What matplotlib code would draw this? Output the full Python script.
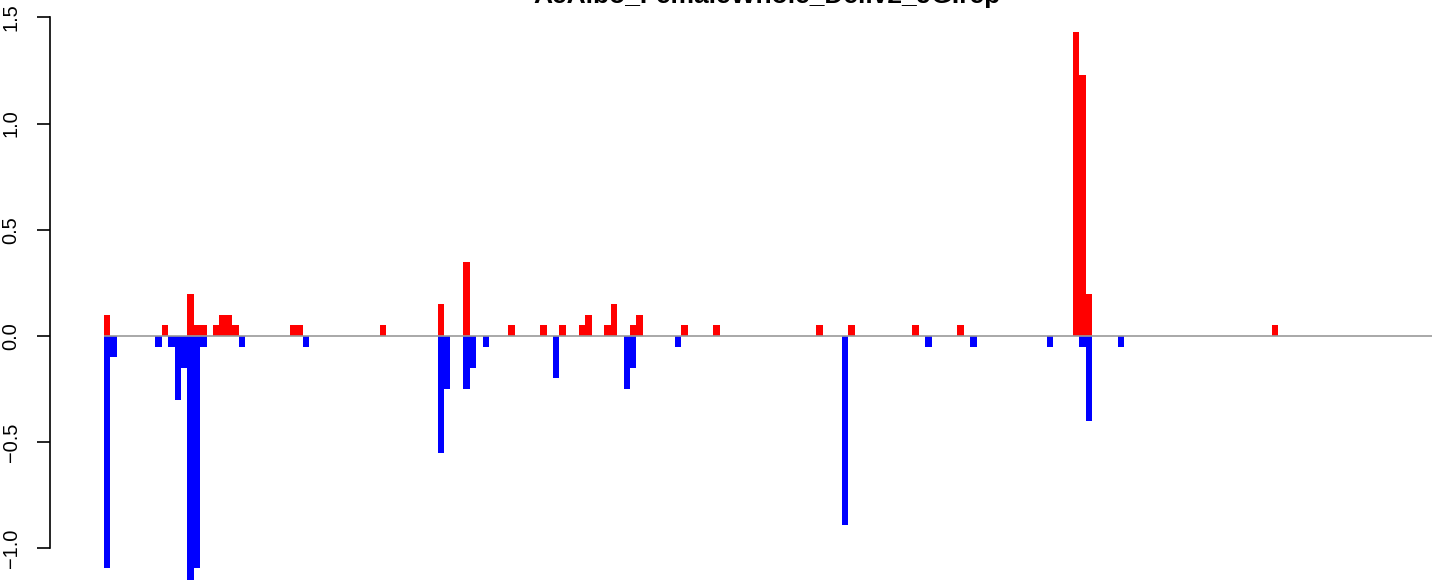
import matplotlib
matplotlib.use("Agg")
import matplotlib.pyplot as plt

plt.rcParams['font.family'] = ['Liberation Sans', 'DejaVu Sans']

title = "AeAlbo_FemaleWhole_Dellv2_JG.rep"
n_bins = 207

# positive (red) bars: bin index and value
pos_index = [0, 9, 13, 14, 15, 17, 18, 19, 20, 29, 30, 43, 52, 56, 63, 68, 71,
             74, 75, 78, 79, 82, 83, 90, 95, 111, 116, 126, 133, 151, 152, 153, 182]
pos_values = [0.1, 0.05, 0.2, 0.05, 0.05, 0.05, 0.1, 0.1, 0.05, 0.05, 0.05, 0.05,
              0.15, 0.35, 0.05, 0.05, 0.05, 0.05, 0.1, 0.05, 0.15, 0.05, 0.1, 0.05,
              0.05, 0.05, 0.05, 0.05, 0.05, 1.43, 1.23, 0.2, 0.05]

# negative (blue) bars: bin index and value
neg_index = [0, 1, 8, 10, 11, 12, 13, 14, 15, 21, 31, 52, 53, 56, 57, 59, 70, 81,
             82, 89, 115, 128, 135, 147, 152, 153, 158]
neg_values = [-1.09, -0.1, -0.05, -0.05, -0.3, -0.15, -1.15, -1.09, -0.05, -0.05,
              -0.05, -0.55, -0.25, -0.25, -0.15, -0.05, -0.2, -0.25, -0.15, -0.05,
              -0.89, -0.05, -0.05, -0.05, -0.05, -0.4, -0.05]

y_ticks = [-1.0, -0.5, 0.0, 0.5, 1.0, 1.5]
y_tick_labels = ["\u22121.0", "\u22120.5", "0.0", "0.5", "1.0", "1.5"]

W, H = 1444, 582
fig = plt.figure(figsize=(W / 100, H / 100), dpi=100)

ax_left_px, bar_start_px, bar_end_px = 50, 104, 1432
zero_px, px_per_unit = 336, 212.4
ax = fig.add_axes([ax_left_px / W, 0, (bar_end_px - ax_left_px) / W, 1])
bw = (bar_end_px - bar_start_px) / n_bins
ax.set_xlim(-(bar_start_px - ax_left_px) / bw, n_bins)
ax.set_ylim(-(H - zero_px) / px_per_unit, zero_px / px_per_unit)

ax.bar(pos_index, pos_values, width=1.0, align='edge', color='#FF0000',
       edgecolor='none', linewidth=0)
ax.bar(neg_index, neg_values, width=1.0, align='edge', color='#0000FF',
       edgecolor='none', linewidth=0)
ax.plot([0, n_bins], [0, 0], color='#9A9A9A', linewidth=1.2, zorder=5,
        solid_capstyle='butt')

for s in ['top', 'right', 'bottom']:
    ax.spines[s].set_visible(False)
ax.spines['left'].set_bounds(-1.0, 1.5)
ax.spines['left'].set_linewidth(1.2)
ax.set_xticks([])
ax.set_yticks(y_ticks)
ax.set_yticklabels(y_tick_labels, rotation=90, va='center')
ax.tick_params(axis='y', length=9.4, width=1.2, pad=11.7, labelsize=14.4,
               colors='black')
ax.patch.set_alpha(0)

fig.text(767 / W, 1 - 3 / H, title, ha='center', va='baseline',
         fontsize=19, fontweight='bold')

fig.savefig("out.png", dpi=100)
